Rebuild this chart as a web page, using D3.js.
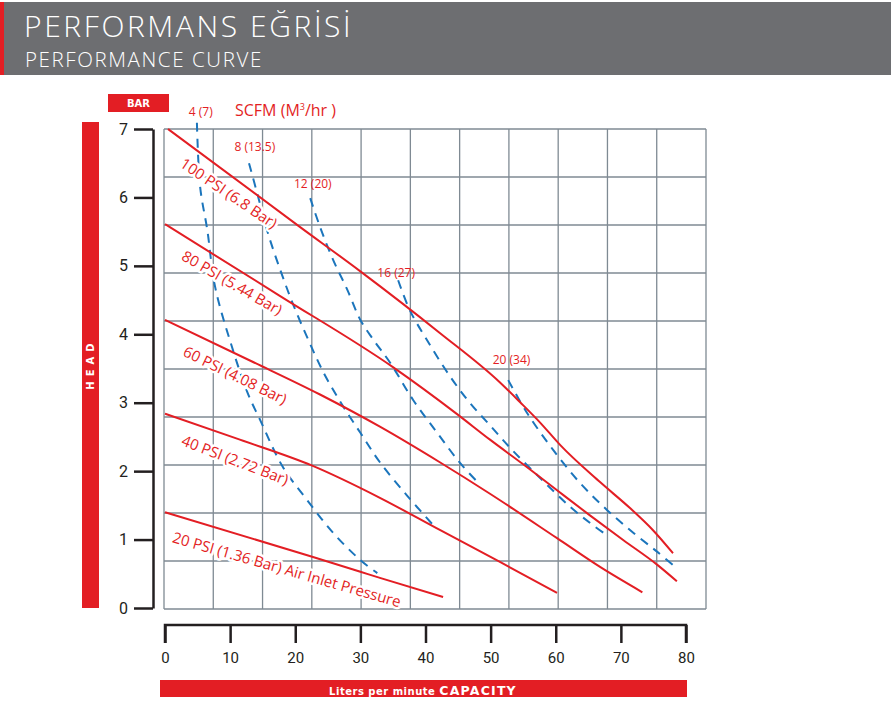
<!DOCTYPE html>
<html><head><meta charset="utf-8">
<script src="https://cdn.jsdelivr.net/npm/d3@7"></script>
<style>
body{margin:0;background:#fff;}
svg{display:block;}
</style></head>
<body>
<svg id="chart" width="895" height="703"></svg>
<script>
// ---------- DATA ----------
const xTicks = [0,10,20,30,40,50,60,70,80];
const yTicks = [0,1,2,3,4,5,6,7];

const psiNames = ["100 PSI (6.8 Bar)","80 PSI (5.44 Bar)","60 PSI (4.08 Bar)","40 PSI (2.72 Bar)","20 PSI (1.36 Bar) Air Inlet Pressure"];
const psi100 = [[0.46,7.0],[20.7,5.57],[30.0,4.92],[42.2,4.02],[51.4,3.30],[54.5,3.01],[57.6,2.71],[60.7,2.38],[66.8,1.84],[71.4,1.46],[74.9,1.14],[78.0,0.80]];
const psi80  = [[0,5.61],[17.5,4.57],[35.0,3.52],[44.9,2.83],[49.9,2.46],[55.0,2.10],[60.2,1.72],[65.3,1.35],[70.4,0.99],[75.6,0.63],[78.6,0.39]];
const psi60  = [[0,4.21],[13.2,3.61],[23.8,3.12],[33.0,2.65],[42.2,2.13],[49.9,1.67],[60.2,1.02],[66.8,0.60],[73.3,0.23]];
const psi40  = [[0,2.84],[11.5,2.46],[22.6,2.08],[33.0,1.61],[42.2,1.14],[51.5,0.67],[60.2,0.22]];
const psi20  = [[0,1.40],[22.6,0.75],[30.0,0.53],[33.0,0.44],[42.7,0.16]];

const scfmNames = ["4 (7)","8 (13.5)","12 (20)","16 (27)","20 (34)"];
const scfm4  = [[4.9,7.09],[5.4,6.15],[6.5,5.52],[7.7,4.69],[10.3,3.81],[12.7,3.14],[14.6,2.75],[18.1,2.06],[21.8,1.58],[25.8,1.10],[30.0,0.70],[32.6,0.51]];
const scfm8  = [[12.9,6.50],[14.3,6.01],[15.8,5.48],[17.7,4.94],[19.7,4.43],[22.0,3.92],[24.4,3.43],[27.2,2.97],[30.0,2.56],[33.0,2.13],[37.2,1.64],[41.0,1.23]];
const scfm12 = [[22.3,5.99],[23.8,5.57],[25.8,5.09],[28.0,4.65],[30.0,4.21],[32.0,3.92],[34.6,3.58],[38.1,3.04],[41.8,2.56],[45.3,2.12],[48.4,1.80]];
const scfm16 = [[35.8,4.79],[37.6,4.35],[40.2,3.92],[43.8,3.38],[46.8,3.00],[49.9,2.67],[53.3,2.31],[57.6,1.90],[62.2,1.48],[65.3,1.24],[67.3,1.10]];
const scfm20 = [[52.7,3.33],[55.6,2.85],[59.6,2.31],[63.7,1.83],[67.9,1.43],[71.9,1.10],[75.6,0.82],[78.6,0.58]];

const titleTR = "PERFORMANS EĞRİSİ";
const titleEN = "PERFORMANCE CURVE";

// ---------- LAYOUT / STYLE ----------
const RED = "#e31e24", BLUE = "#1b75bc", GRID = "#7f8a93", INK = "#231f20";
const svg = d3.select("#chart");
const x = d3.scaleLinear().domain([0,80]).range([165,686]);
const y = d3.scaleLinear().domain([0,7]).range([608,129]);
const gx = d3.scaleLinear().domain([0,11]).range([164,706]);
const gy = d3.scaleLinear().domain([0,10]).range([609,129]);

// header banner
svg.append("rect").attr("x",0).attr("y",2).attr("width",891).attr("height",73).attr("fill","#6d6e71");
svg.append("rect").attr("x",0).attr("y",2).attr("width",4).attr("height",73).attr("fill",RED);
svg.append("text").attr("x",24).attr("y",37).attr("fill","#fff")
  .style("font-family","'Open Sans',sans-serif").style("font-weight",300).style("font-size","30px")
  .style("letter-spacing","2.6px").text(titleTR);
svg.append("text").attr("x",25).attr("y",67).attr("fill","#fff")
  .style("font-family","'Open Sans',sans-serif").style("font-weight",300).style("font-size","20.5px")
  .style("letter-spacing","1.6px").text(titleEN);

// grid
const grid = svg.append("g").attr("stroke",GRID).attr("stroke-width",1.3);
grid.selectAll("line.v").data(d3.range(0,12)).join("line").attr("class","v")
  .attr("x1",d=>gx(d)).attr("x2",d=>gx(d)).attr("y1",gy(10)).attr("y2",gy(0));
grid.selectAll("line.h").data(d3.range(0,11)).join("line").attr("class","h")
  .attr("y1",d=>gy(d)).attr("y2",d=>gy(d)).attr("x1",gx(0)).attr("x2",gx(11));

// curves
const lineRed = d3.line().x(d=>x(d[0])).y(d=>y(d[1])).curve(d3.curveMonotoneX);
const lineBlue = d3.line().x(d=>x(d[0])).y(d=>y(d[1])).curve(d3.curveCatmullRom.alpha(0.5));
[scfm4,scfm8,scfm12,scfm16,scfm20].forEach(s=>{
  svg.append("path").attr("d",lineBlue(s)).attr("fill","none").attr("stroke",BLUE)
    .attr("stroke-width",2).attr("stroke-dasharray","9,7");
});
[psi100,psi80,psi60,psi40,psi20].forEach(s=>{
  svg.append("path").attr("d",lineRed(s)).attr("fill","none").attr("stroke",RED).attr("stroke-width",2);
});

// PSI labels (position in data units, angle in degrees)
const psiLabelPos = [[9.8,6.06,34],[10.3,4.75,30],[10.75,3.40,26],[10.75,2.16,21],[18.7,0.56,16]];
psiNames.forEach((t,i)=>{
  const p = psiLabelPos[i];
  svg.append("text").attr("transform",`translate(${x(p[0])},${y(p[1])}) rotate(${p[2]})`)
    .attr("text-anchor","middle").attr("dy","0.35em")
    .attr("fill",RED).attr("stroke","#fff").attr("stroke-width",5).attr("paint-order","stroke")
    .attr("stroke-linejoin","round")
    .style("font-family","'Open Sans',sans-serif").style("font-size","15px")
    .text(t);
});

// SCFM labels
const scfmLabelPos = [[5.5,7.25],[13.8,6.74],[22.7,6.2],[35.5,4.9],[53.2,3.63]];
scfmNames.forEach((t,i)=>{
  const p = scfmLabelPos[i];
  svg.append("text").attr("x",x(p[0])).attr("y",y(p[1])).attr("text-anchor","middle").attr("dy","0.35em")
    .attr("fill",RED).style("font-family","'Open Sans',sans-serif").style("font-size","12px").text(t);
});
svg.append("text").attr("x",235).attr("y",116).attr("fill",RED)
  .style("font-family","'Open Sans',sans-serif").style("font-size","16px")
  .html("SCFM (M<tspan dy='-6' font-size='9'>3</tspan><tspan dy='6'>/hr )</tspan>");

// BAR box
svg.append("rect").attr("x",108).attr("y",94).attr("width",61).attr("height",18).attr("fill",RED);
svg.append("text").attr("x",138.5).attr("y",103).attr("dy","0.35em").attr("text-anchor","middle").attr("fill","#fff")
  .style("font-family","'DejaVu Sans',sans-serif").style("font-weight","bold").style("font-size","10px").text("BAR");

// HEAD bar
svg.append("rect").attr("x",82).attr("y",122).attr("width",17).attr("height",486).attr("fill",RED);
svg.append("text").attr("transform","translate(90.5,364) rotate(-90)").attr("text-anchor","middle").attr("dy","0.35em")
  .attr("fill","#fff").style("font-family","'DejaVu Sans',sans-serif").style("font-weight","bold")
  .style("font-size","10px").style("letter-spacing","5px").text("HEAD");

// Y axis
const yAxis = d3.axisLeft(y).tickValues(yTicks).tickFormat(d3.format("d")).tickSizeInner(19).tickSizeOuter(0).tickPadding(6);
const gY = svg.append("g").attr("transform","translate(153,0)").call(yAxis);
gY.selectAll("path,line").attr("stroke",INK).attr("stroke-width",2.5);
gY.selectAll("text").attr("fill",INK).style("font-family","'Roboto',sans-serif").style("font-size","16px");

// X axis
const xAxis = d3.axisBottom(x).tickValues(xTicks).tickFormat(d3.format("d")).tickSizeInner(18).tickSizeOuter(0).tickPadding(9);
const gX = svg.append("g").attr("transform","translate(0,625)").call(xAxis);
gX.selectAll("path,line").attr("stroke",INK).attr("stroke-width",2.5);
gX.select("path.domain").attr("d",`M${x(0)},18V0H${x(80)}V18`).attr("fill","none");
gX.selectAll("text").attr("fill",INK).style("font-family","'Roboto',sans-serif").style("font-size","15px");

// Capacity bar
svg.append("rect").attr("x",160).attr("y",680).attr("width",527).attr("height",17).attr("fill",RED);
const cap = svg.append("text").attr("x",423).attr("y",689).attr("dy","0.35em").attr("text-anchor","middle")
  .attr("fill","#fff").style("font-family","'DejaVu Sans',sans-serif").style("font-weight","bold");
cap.append("tspan").style("font-size","10px").style("letter-spacing","0.5px").text("Liters per minute ");
cap.append("tspan").style("font-size","12.5px").style("letter-spacing","1.2px").text("CAPACITY");
</script>
</body></html>
